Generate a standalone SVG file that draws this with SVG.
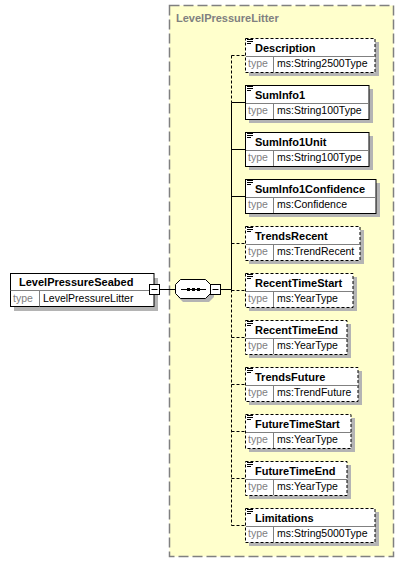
<svg xmlns="http://www.w3.org/2000/svg" width="404" height="564" viewBox="0 0 404 564">
<defs>
<style>
.cont{fill:#FFFFCC;stroke:#808080;stroke-width:1.5;stroke-dasharray:10,4}
.title{font-family:"Liberation Sans",Arial,sans-serif;font-size:11px;font-weight:bold;fill:#808080}
.box{fill:#FFFFFF;stroke:#000;stroke-width:1}
.opt{stroke-dasharray:3,2}
.shadow{fill:#B4B4B4}
.div{stroke:#808080;stroke-width:1;fill:none}
.name{font-family:"Liberation Sans",Arial,sans-serif;font-size:11px;font-weight:bold;fill:#000}
.tl{font-family:"Liberation Sans",Arial,sans-serif;font-size:10.5px;fill:#808080}
.tv{font-family:"Liberation Sans",Arial,sans-serif;font-size:10.5px;fill:#000}
.ln{stroke:#000;stroke-width:1;fill:none}
.dl{stroke:#000;stroke-width:1;fill:none;stroke-dasharray:3,2}
.icon{stroke:#000;stroke-width:1}
</style>
</defs>
<rect class="cont" x="169.5" y="5.5" width="224" height="551"/>
<text class="title" x="176" y="22">LevelPressureLitter</text>

<g id="connectors">
<line class="ln" x1="159" y1="289.5" x2="175" y2="289.5"/>
<line class="ln" x1="221" y1="289.5" x2="231.5" y2="289.5"/>
<line class="dl" x1="231.5" y1="55.5" x2="231.5" y2="102.5"/>
<line class="ln" x1="231.5" y1="102.5" x2="231.5" y2="289.5"/>
<line class="dl" x1="231.5" y1="289.5" x2="231.5" y2="525.5"/>
<line class="dl" x1="231.5" y1="55.5" x2="245" y2="55.5"/>
<line class="ln" x1="231.5" y1="102.5" x2="245" y2="102.5"/>
<line class="ln" x1="231.5" y1="149.5" x2="245" y2="149.5"/>
<line class="ln" x1="231.5" y1="196.5" x2="245" y2="196.5"/>
<line class="dl" x1="231.5" y1="243.5" x2="245" y2="243.5"/>
<line class="dl" x1="231.5" y1="290.5" x2="245" y2="290.5"/>
<line class="dl" x1="231.5" y1="337.5" x2="245" y2="337.5"/>
<line class="dl" x1="231.5" y1="384.5" x2="245" y2="384.5"/>
<line class="dl" x1="231.5" y1="431.5" x2="245" y2="431.5"/>
<line class="dl" x1="231.5" y1="478.5" x2="245" y2="478.5"/>
<line class="dl" x1="231.5" y1="525.5" x2="245" y2="525.5"/>
</g>

<g id="LevelPressureSeabed">
<rect class="shadow" x="14" y="278" width="144" height="33"/>
<rect class="box" x="10.5" y="273.5" width="143.5" height="33"/>
<line class="div" x1="10.5" y1="290.5" x2="154" y2="290.5"/>
<line class="div" x1="39.5" y1="290.5" x2="39.5" y2="306.5"/>
<text class="name" x="19" y="286">LevelPressureSeabed</text>
<text class="tl" x="13" y="302">type</text>
<text class="tv" x="43" y="302">LevelPressureLitter</text>
<rect class="box" x="149.5" y="284.5" width="10" height="10"/>
<line class="ln" x1="151.5" y1="289.5" x2="157.5" y2="289.5"/>
</g>

<g id="sequence">
<path class="shadow" d="M183,283 H209 L214,288 V297 L209,302 H183 L178,297 V288 Z"/>
<path class="box" d="M180.5,279.5 H205.5 L210.5,284.5 V293.5 L205.5,298.5 H180.5 L175.5,293.5 V284.5 Z"/>
<line class="ln" x1="181" y1="289.5" x2="206" y2="289.5"/>
<rect x="187" y="288" width="3" height="3" fill="#000"/>
<rect x="192" y="288" width="3" height="3" fill="#000"/>
<rect x="197" y="288" width="3" height="3" fill="#000"/>
<rect class="box" x="210.5" y="284.5" width="10" height="10"/>
<line class="ln" x1="212.5" y1="289.5" x2="218.5" y2="289.5"/>
</g>

<g id="Description">
<rect class="shadow" x="249" y="42" width="130" height="34"/>
<rect class="box opt" x="245.5" y="38.5" width="129.5" height="34"/>
<line class="div" x1="246" y1="56.5" x2="375" y2="56.5"/>
<line class="div" x1="273.5" y1="56.5" x2="273.5" y2="72"/>
<line class="icon" x1="247" y1="39.5" x2="253" y2="39.5"/><line class="icon" x1="247" y1="41.5" x2="253" y2="41.5"/><line class="icon" x1="247" y1="43.5" x2="251" y2="43.5"/>
<text class="name" x="255" y="51.5">Description</text>
<text class="tl" x="248" y="67">type</text>
<text class="tv" x="277" y="67">ms:String2500Type</text>
</g>

<g id="SumInfo1">
<rect class="shadow" x="249" y="89" width="124" height="34"/>
<rect class="box" x="245.5" y="85.5" width="123.5" height="34"/>
<line class="div" x1="246" y1="103.5" x2="369" y2="103.5"/>
<line class="div" x1="273.5" y1="103.5" x2="273.5" y2="119"/>
<line class="icon" x1="247" y1="86.5" x2="253" y2="86.5"/><line class="icon" x1="247" y1="88.5" x2="253" y2="88.5"/><line class="icon" x1="247" y1="90.5" x2="251" y2="90.5"/>
<text class="name" x="255" y="98.5">SumInfo1</text>
<text class="tl" x="248" y="114">type</text>
<text class="tv" x="277" y="114">ms:String100Type</text>
</g>

<g id="SumInfo1Unit">
<rect class="shadow" x="249" y="136" width="124" height="34"/>
<rect class="box" x="245.5" y="132.5" width="123.5" height="34"/>
<line class="div" x1="246" y1="150.5" x2="369" y2="150.5"/>
<line class="div" x1="273.5" y1="150.5" x2="273.5" y2="166"/>
<line class="icon" x1="247" y1="133.5" x2="253" y2="133.5"/><line class="icon" x1="247" y1="135.5" x2="253" y2="135.5"/><line class="icon" x1="247" y1="137.5" x2="251" y2="137.5"/>
<text class="name" x="255" y="145.5">SumInfo1Unit</text>
<text class="tl" x="248" y="161">type</text>
<text class="tv" x="277" y="161">ms:String100Type</text>
</g>

<g id="SumInfo1Confidence">
<rect class="shadow" x="249" y="183" width="131" height="34"/>
<rect class="box" x="245.5" y="179.5" width="130.5" height="34"/>
<line class="div" x1="246" y1="197.5" x2="376" y2="197.5"/>
<line class="div" x1="273.5" y1="197.5" x2="273.5" y2="213"/>
<line class="icon" x1="247" y1="180.5" x2="253" y2="180.5"/><line class="icon" x1="247" y1="182.5" x2="253" y2="182.5"/><line class="icon" x1="247" y1="184.5" x2="251" y2="184.5"/>
<text class="name" x="255" y="192.5">SumInfo1Confidence</text>
<text class="tl" x="248" y="208">type</text>
<text class="tv" x="277" y="208">ms:Confidence</text>
</g>

<g id="TrendsRecent">
<rect class="shadow" x="249" y="230" width="115" height="34"/>
<rect class="box opt" x="245.5" y="226.5" width="114.5" height="34"/>
<line class="div" x1="246" y1="244.5" x2="360" y2="244.5"/>
<line class="div" x1="273.5" y1="244.5" x2="273.5" y2="260"/>
<line class="icon" x1="247" y1="227.5" x2="253" y2="227.5"/><line class="icon" x1="247" y1="229.5" x2="253" y2="229.5"/><line class="icon" x1="247" y1="231.5" x2="251" y2="231.5"/>
<text class="name" x="255" y="239.5">TrendsRecent</text>
<text class="tl" x="248" y="255">type</text>
<text class="tv" x="277" y="255">ms:TrendRecent</text>
</g>

<g id="RecentTimeStart">
<rect class="shadow" x="249" y="277" width="108" height="34"/>
<rect class="box opt" x="245.5" y="273.5" width="107.5" height="34"/>
<line class="div" x1="246" y1="291.5" x2="353" y2="291.5"/>
<line class="div" x1="273.5" y1="291.5" x2="273.5" y2="307"/>
<line class="icon" x1="247" y1="274.5" x2="253" y2="274.5"/><line class="icon" x1="247" y1="276.5" x2="253" y2="276.5"/><line class="icon" x1="247" y1="278.5" x2="251" y2="278.5"/>
<text class="name" x="255" y="286.5">RecentTimeStart</text>
<text class="tl" x="248" y="302">type</text>
<text class="tv" x="277" y="302">ms:YearType</text>
</g>

<g id="RecentTimeEnd">
<rect class="shadow" x="249" y="324" width="102" height="34"/>
<rect class="box opt" x="245.5" y="320.5" width="101.5" height="34"/>
<line class="div" x1="246" y1="338.5" x2="347" y2="338.5"/>
<line class="div" x1="273.5" y1="338.5" x2="273.5" y2="354"/>
<line class="icon" x1="247" y1="321.5" x2="253" y2="321.5"/><line class="icon" x1="247" y1="323.5" x2="253" y2="323.5"/><line class="icon" x1="247" y1="325.5" x2="251" y2="325.5"/>
<text class="name" x="255" y="333.5">RecentTimeEnd</text>
<text class="tl" x="248" y="349">type</text>
<text class="tv" x="277" y="349">ms:YearType</text>
</g>

<g id="TrendsFuture">
<rect class="shadow" x="249" y="371" width="113" height="34"/>
<rect class="box opt" x="245.5" y="367.5" width="112.5" height="34"/>
<line class="div" x1="246" y1="385.5" x2="358" y2="385.5"/>
<line class="div" x1="273.5" y1="385.5" x2="273.5" y2="401"/>
<line class="icon" x1="247" y1="368.5" x2="253" y2="368.5"/><line class="icon" x1="247" y1="370.5" x2="253" y2="370.5"/><line class="icon" x1="247" y1="372.5" x2="251" y2="372.5"/>
<text class="name" x="255" y="380.5">TrendsFuture</text>
<text class="tl" x="248" y="396">type</text>
<text class="tv" x="277" y="396">ms:TrendFuture</text>
</g>

<g id="FutureTimeStart">
<rect class="shadow" x="249" y="418" width="106" height="34"/>
<rect class="box opt" x="245.5" y="414.5" width="105.5" height="34"/>
<line class="div" x1="246" y1="432.5" x2="351" y2="432.5"/>
<line class="div" x1="273.5" y1="432.5" x2="273.5" y2="448"/>
<line class="icon" x1="247" y1="415.5" x2="253" y2="415.5"/><line class="icon" x1="247" y1="417.5" x2="253" y2="417.5"/><line class="icon" x1="247" y1="419.5" x2="251" y2="419.5"/>
<text class="name" x="255" y="427.5">FutureTimeStart</text>
<text class="tl" x="248" y="443">type</text>
<text class="tv" x="277" y="443">ms:YearType</text>
</g>

<g id="FutureTimeEnd">
<rect class="shadow" x="249" y="465" width="102" height="34"/>
<rect class="box opt" x="245.5" y="461.5" width="101.5" height="34"/>
<line class="div" x1="246" y1="479.5" x2="347" y2="479.5"/>
<line class="div" x1="273.5" y1="479.5" x2="273.5" y2="495"/>
<line class="icon" x1="247" y1="462.5" x2="253" y2="462.5"/><line class="icon" x1="247" y1="464.5" x2="253" y2="464.5"/><line class="icon" x1="247" y1="466.5" x2="251" y2="466.5"/>
<text class="name" x="255" y="474.5">FutureTimeEnd</text>
<text class="tl" x="248" y="490">type</text>
<text class="tv" x="277" y="490">ms:YearType</text>
</g>

<g id="Limitations">
<rect class="shadow" x="249" y="512" width="130" height="34"/>
<rect class="box opt" x="245.5" y="508.5" width="129.5" height="34"/>
<line class="div" x1="246" y1="526.5" x2="375" y2="526.5"/>
<line class="div" x1="273.5" y1="526.5" x2="273.5" y2="542"/>
<line class="icon" x1="247" y1="509.5" x2="253" y2="509.5"/><line class="icon" x1="247" y1="511.5" x2="253" y2="511.5"/><line class="icon" x1="247" y1="513.5" x2="251" y2="513.5"/>
<text class="name" x="255" y="521.5">Limitations</text>
<text class="tl" x="248" y="537">type</text>
<text class="tv" x="277" y="537">ms:String5000Type</text>
</g>
</svg>
